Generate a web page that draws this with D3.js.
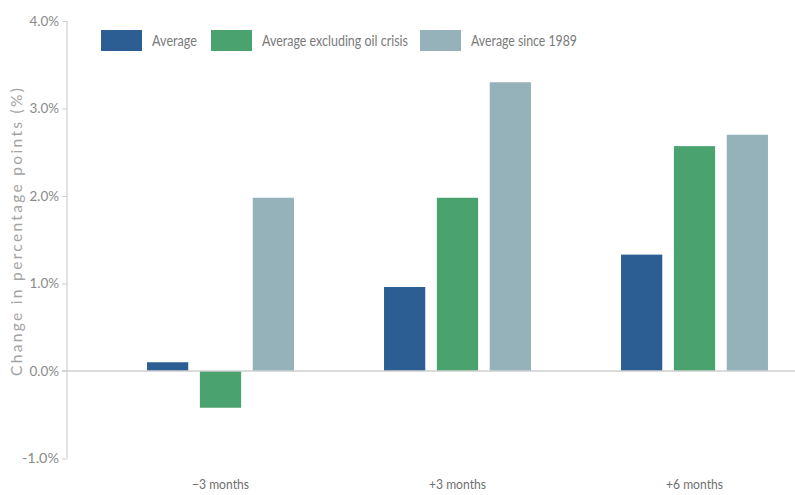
<!DOCTYPE html>
<html><head><meta charset="utf-8">
<script src="https://cdn.jsdelivr.net/npm/d3@7"></script>
<style>body{margin:0;background:#fff}svg{display:block}</style>
</head><body><svg id="c" width="795" height="495"></svg>
<script>
const categories = ["\u22123 months", "+3 months", "+6 months"];
const seriesNames = ["Average", "Average excluding oil crisis", "Average since 1989"];
const average = [0.10, 0.96, 1.33];
const avgExOil = [-0.42, 1.98, 2.57];
const avgSince1989 = [1.98, 3.30, 2.70];
const yTicks = [-1, 0, 1, 2, 3, 4];
const colors = ["#2c5e93", "#4aa26e", "#95b2bb"];

const seriesValues = [average, avgExOil, avgSince1989];
const font = "Lato,'DejaVu Sans Condensed',sans-serif";
const svg = d3.select("#c");

const y = d3.scaleLinear().domain([-1, 4]).range([458.5, 21]);
const x0 = d3.scaleBand().domain(categories).range([102, 813]).paddingInner(0.38).paddingOuter(0.19);
const x1 = d3.scaleBand().domain(seriesNames).range([0, x0.bandwidth()]).paddingInner(0.22);

// y axis
const yAxis = svg.append("g").attr("transform", "translate(67,0)")
  .call(d3.axisLeft(y).tickValues(yTicks).tickFormat(d => d3.format(".1f")(d) + "%").tickSize(5).tickPadding(3));
yAxis.select(".domain").attr("stroke", "#cfcfcf").attr("stroke-width", 1.2).attr("d", `M0,${y(4)}V${y(-1)}`);
yAxis.selectAll(".tick line").attr("stroke", "#cfcfcf");
yAxis.selectAll(".tick text").attr("fill", "#8a8a8a").style("font-family", font).style("font-size", "12.5px")
  .text(function(){return this.textContent.replace("\u2212","-");})
  .attr("textLength", function(){return this.textContent.length * 7.4;}).attr("lengthAdjust", "spacingAndGlyphs");

// bars
const g = svg.append("g");
categories.forEach((cat, ci) => {
  seriesNames.forEach((s, si) => {
    const v = seriesValues[si][ci];
    g.append("rect")
      .attr("x", x0(cat) + x1(s))
      .attr("width", x1.bandwidth())
      .attr("y", y(Math.max(0, v)))
      .attr("height", Math.abs(y(v) - y(0)))
      .attr("fill", colors[si]);
  });
});

// zero line
svg.append("line").attr("x1", 62).attr("x2", 795).attr("y1", y(0)).attr("y2", y(0))
  .attr("stroke", "#cfcfcf").attr("stroke-width", 1.5);

// category labels
svg.append("g").selectAll("text").data(categories).join("text")
  .attr("x", d => x0(d) + x0.bandwidth() / 2).attr("y", 489)
  .attr("text-anchor", "middle").attr("fill", "#6f6f6f")
  .attr("textLength", 57).attr("lengthAdjust", "spacingAndGlyphs")
  .style("font-family", font).style("font-size", "14px").text(d => d);

// y title
svg.append("text").attr("transform", "translate(22,232) rotate(-90)")
  .attr("text-anchor", "middle").attr("fill", "#a3a3a3")
  .attr("textLength", 288).attr("lengthAdjust", "spacing")
  .style("font-family", font).style("font-size", "15.5px")
  .text("Change in percentage points (%)");

// legend
const legX = [101, 211, 420];
const legW = [45, 146, 106];
const leg = svg.append("g");
seriesNames.forEach((s, i) => {
  leg.append("rect").attr("x", legX[i]).attr("y", 30).attr("width", 41).attr("height", 21).attr("fill", colors[i]);
  leg.append("text").attr("x", legX[i] + 51).attr("y", 46).attr("fill", "#7a7a7a")
    .attr("textLength", legW[i]).attr("lengthAdjust", "spacingAndGlyphs")
    .style("font-family", font).style("font-size", "14.5px").text(s);
});
</script></body></html>
